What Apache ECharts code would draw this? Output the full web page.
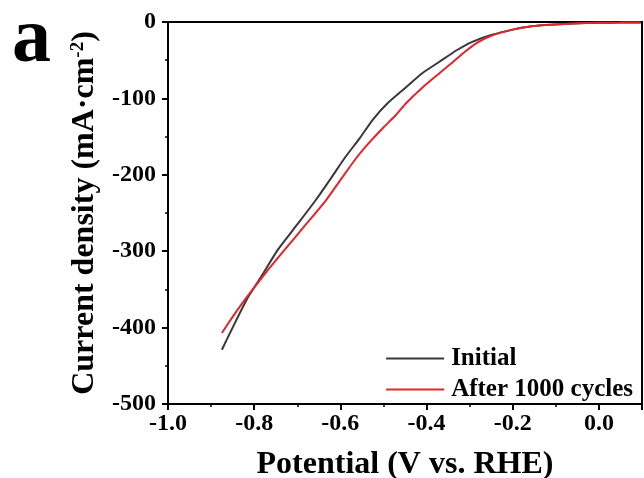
<!DOCTYPE html>
<html>
<head>
<meta charset="utf-8">
<script src="https://cdn.jsdelivr.net/npm/echarts@6/dist/echarts.min.js"></script>
<style>
html,body{margin:0;padding:0;background:#fff;}
#chart{width:644px;height:478px;}
</style>
</head>
<body>
<div id="chart"></div>
<script>
// Potential (V vs. RHE) and current density (mA·cm^-2)
const initialV = [-0.875, -0.850, -0.815, -0.780, -0.745, -0.700, -0.657, -0.620, -0.590, -0.555, -0.525, -0.490, -0.447, -0.410, -0.370, -0.330, -0.294, -0.250, -0.200, -0.160, -0.123, -0.060, 0.000, 0.050, 0.097];
const initialJ = [-429, -400, -361, -330, -298, -265, -233, -203, -178, -152, -128, -106, -85, -67, -52, -37, -26, -17, -10, -6, -4, -2, -1, -0.8, -0.5];
const afterV = [-0.875, -0.850, -0.830, -0.810, -0.770, -0.729, -0.680, -0.633, -0.600, -0.563, -0.530, -0.500, -0.470, -0.447, -0.410, -0.370, -0.340, -0.313, -0.285, -0.250, -0.200, -0.160, -0.123, -0.060, 0.000, 0.050, 0.097];
const afterJ = [-407, -386, -370, -355, -326, -298, -265, -233, -207, -178, -156, -138, -121, -106, -86, -67, -53, -40, -28, -18, -10, -6, -4, -2, -1, -0.8, -0.5];
const seriesNames = ['Initial', 'After 1000 cycles'];
const xTicks = { min: -1.0, max: 0.1, interval: 0.2 };
const yTicks = { min: -500, max: 0, interval: 100 };

const zip = (a, b) => a.map((v, i) => [v, b[i]]);
const font = '"Liberation Serif", "Times New Roman", serif';

const chart = echarts.init(document.getElementById('chart'), null, { renderer: 'canvas' });
chart.setOption({
  backgroundColor: '#fff',
  animation: false,
  grid: { left: 168, right: 2, top: 22, bottom: 74, containLabel: false, outerBoundsMode: 'none', show: true, borderColor: '#000', borderWidth: 2, backgroundColor: 'transparent' },
  graphic: [{
    type: 'text', left: 12, top: 2,
    style: { text: 'a', font: 'bold 78px ' + font, fill: '#000' }
  }],
  legend: {
    orient: 'vertical', right: 6, top: 341, itemGap: 6,
    itemWidth: 58, itemHeight: 2, icon: 'rect',
    textStyle: { fontFamily: font, fontWeight: 'bold', fontSize: 25, color: '#000', padding: [0, 0, 0, 2] },
    data: seriesNames
  },
  xAxis: {
    type: 'value', min: xTicks.min, max: xTicks.max, interval: xTicks.interval,
    name: 'Potential (V vs. RHE)', nameLocation: 'middle', nameGap: 45,
    nameTextStyle: { fontFamily: font, fontWeight: 'bold', fontSize: 32, color: '#000' },
    axisLine: { onZero: false, lineStyle: { color: '#000', width: 2 } },
    axisTick: { inside: false, length: 6, lineStyle: { color: '#000', width: 2 } },
    minorTick: { show: true, splitNumber: 2, length: 3, lineStyle: { color: '#000', width: 1.5 } },
    axisLabel: { showMaxLabel: false, margin: 8, fontFamily: font, fontWeight: 'bold', fontSize: 24, color: '#000', formatter: v => v.toFixed(1) },
    splitLine: { show: false }
  },
  yAxis: {
    type: 'value', min: yTicks.min, max: yTicks.max, interval: yTicks.interval,
    name: '{t|Current density (mA·cm}{s|-2}{t|)}', nameLocation: 'middle', nameGap: 67,
    nameTextStyle: {
      rich: {
        t: { fontFamily: font, fontWeight: 'bold', fontSize: 32, color: '#000' },
        s: { fontFamily: font, fontWeight: 'bold', fontSize: 19, color: '#000', verticalAlign: 'top', padding: [0, 0, 12, 0] }
      }
    },
    axisLine: { onZero: false, lineStyle: { color: '#000', width: 2 } },
    axisTick: { inside: false, length: 6, lineStyle: { color: '#000', width: 2 } },
    minorTick: { show: true, splitNumber: 2, length: 3, lineStyle: { color: '#000', width: 1.5 } },
    axisLabel: { margin: 12, fontFamily: font, fontWeight: 'bold', fontSize: 24, color: '#000' },
    splitLine: { show: false }
  },
  series: [
    { name: seriesNames[0], type: 'line', data: zip(initialV, initialJ), smooth: 0.2, showSymbol: false, lineStyle: { color: '#383838', width: 2 }, itemStyle: { color: '#383838' }, z: 2 },
    { name: seriesNames[1], type: 'line', data: zip(afterV, afterJ), smooth: 0.2, showSymbol: false, lineStyle: { color: '#e0262a', width: 2 }, itemStyle: { color: '#e0262a' }, z: 3 }
  ]
});
</script>
</body>
</html>
